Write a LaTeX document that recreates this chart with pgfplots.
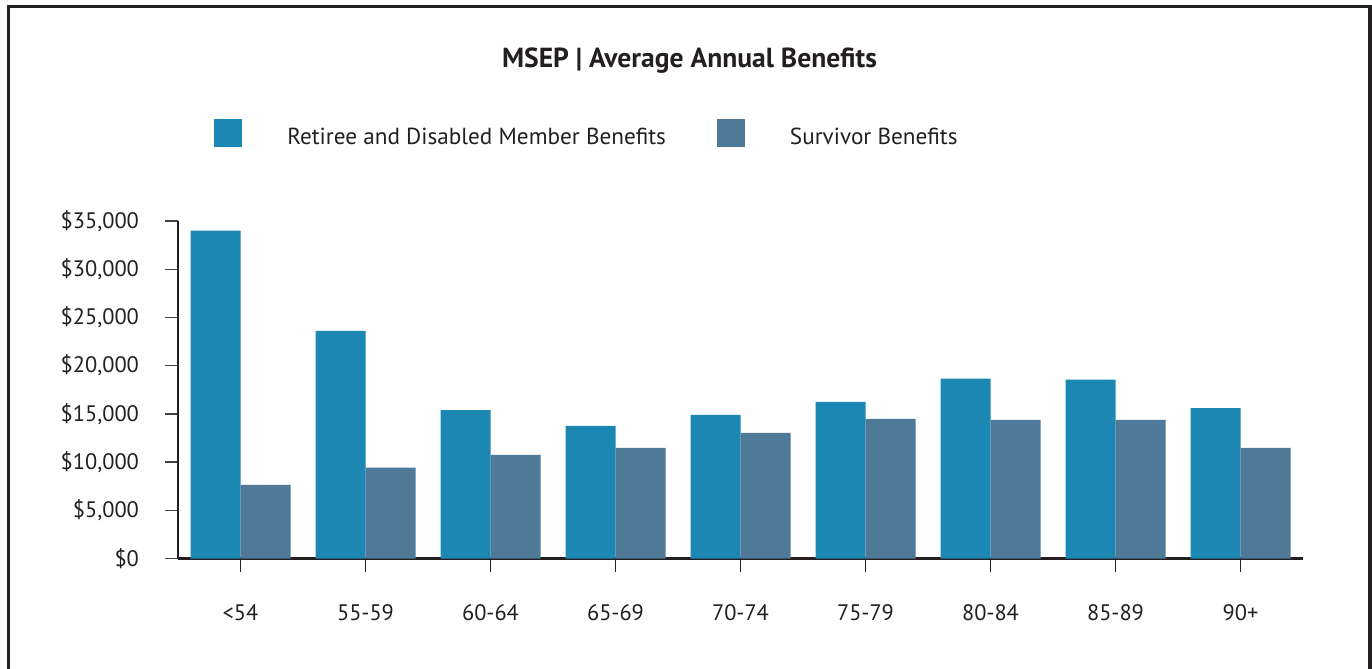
\documentclass[border=0pt]{standalone}
\usepackage{pgfplots}
\pgfplotsset{compat=1.18}
\usepackage{fontspec}
\setmainfont{PT Sans}
\definecolor{retiree}{HTML}{1D87B4}
\definecolor{survivor}{HTML}{4E7997}
\definecolor{ink}{HTML}{231F20}
\begin{document}
\begin{tikzpicture}
\useasboundingbox (0,0) rectangle (686pt,-334.5pt);
\begin{scope}
\clip (0,0) rectangle (686pt,-334.5pt);
\draw[ink, line width=1.6pt] (4.15pt,-3.35pt) rectangle (685pt,-400pt);
\end{scope}
\node[font=\bfseries\fontsize{13.8}{16}\selectfont, text=ink] at (344.75pt,-30.3pt) {MSEP | Average Annual Benefits};
\begin{axis}[
  at={(89pt,-279.25pt)}, anchor=south west,
  scale only axis, width=562.5pt, height=168.75pt,
  ybar=0pt, bar width=25pt,
  xmin=-0.5, xmax=8.5, ymin=0, ymax=35000,
  scaled y ticks=false,
  axis x line*=bottom, axis y line*=left,
  x axis line style={-, line width=1.6pt, ink},
  y axis line style={-, line width=1.1pt, ink},
  tick align=outside,
  major tick length=6.5pt,
  xtick={0,...,8},
  xticklabels={<54,55-59,60-64,65-69,70-74,75-79,80-84,85-89,90+},
  ytick={0,5000,...,35000},
  yticklabels={{\$0},{\$5,000},{\$10,000},{\$15,000},{\$20,000},{\$25,000},{\$30,000},{\$35,000}},
  x tick style={ink, line width=0.6pt},
  y tick style={ink!85, line width=0.7pt},
  tick label style={font=\fontsize{11.2}{13}\selectfont, text=ink},
  xticklabel style={yshift=-13pt},
  yticklabel style={xshift=-9.5pt},
  legend style={draw=none, fill=none, at={(0.032,1.2548)}, anchor=west,
    legend columns=2, inner sep=0pt,
    font=\fontsize{11.6}{13}\selectfont, text=ink,
    /tikz/every even column/.append style={column sep=23.5pt},
    /tikz/every odd column/.append style={column sep=20.5pt}},
  legend cell align=left,
  legend image code/.code={\fill[#1] (0pt,-4.5pt) rectangle (14pt,9.5pt);},
]
\addplot[fill=retiree, draw=none] coordinates {(0,34000) (1,23600) (2,15400) (3,13750) (4,14900) (5,16250) (6,18650) (7,18550) (8,15600)};
\addplot[fill=survivor, draw=none] coordinates {(0,7630) (1,9430) (2,10750) (3,11470) (4,13030) (5,14480) (6,14380) (7,14380) (8,11470)};
\legend{Retiree and Disabled Member Benefits, Survivor Benefits}
\end{axis}
\end{tikzpicture}
\end{document}
